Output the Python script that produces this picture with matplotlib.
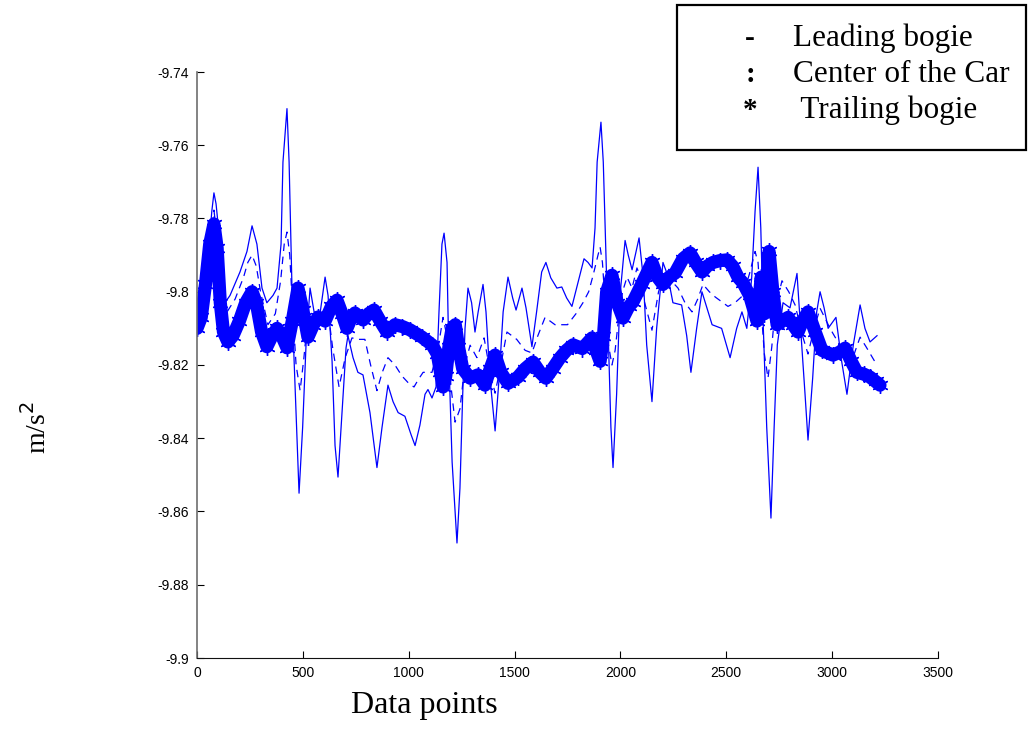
import matplotlib
matplotlib.use("Agg")
import matplotlib.pyplot as plt
from matplotlib.patches import Rectangle

# Vertical acceleration along the car (m/s^2) versus sample index
leading_x = [0, 40, 60, 70, 80, 90, 109, 120, 132, 156, 203, 236, 260, 283, 307, 330, 359, 378,
             397, 406, 425, 435, 444, 453, 468, 482, 499, 515, 534, 553, 581, 605, 619, 638, 652,
             666, 685, 704, 713, 737, 760, 784, 817, 850, 874, 902, 926, 950, 982, 1011, 1030,
             1053, 1077, 1091, 1110, 1129, 1143, 1157, 1167, 1181, 1190, 1205, 1228, 1242, 1255,
             1266, 1280, 1297, 1313, 1328, 1351, 1365, 1384, 1408, 1427, 1446, 1469, 1491, 1507,
             1535, 1554, 1582, 1604, 1628, 1648, 1671, 1700, 1723, 1746, 1771, 1793, 1828, 1847,
             1866, 1880, 1890, 1908, 1919, 1930, 1943, 1955, 1965, 1982, 1998, 2022, 2037, 2055,
             2088, 2108, 2124, 2149, 2171, 2201, 2223, 2248, 2289, 2313, 2333, 2360, 2385, 2433,
             2478, 2518, 2549, 2574, 2597, 2620, 2636, 2650, 2663, 2675, 2691, 2711, 2726, 2741,
             2768, 2801, 2834, 2851, 2872, 2886, 2908, 2927, 2943, 2962, 2981, 3018, 3045, 3070,
             3100, 3132, 3155, 3179, 3212]
leading_y = [-9.810, -9.800, -9.785, -9.778, -9.773, -9.776, -9.787, -9.800, -9.803, -9.801,
             -9.7946, -9.789, -9.782, -9.787, -9.799, -9.803, -9.801, -9.799, -9.787, -9.7646,
             -9.750, -9.7646, -9.787, -9.810, -9.833, -9.855, -9.837, -9.8145, -9.799, -9.8055,
             -9.806, -9.796, -9.801, -9.819, -9.842, -9.8506, -9.833, -9.8153, -9.812, -9.818,
             -9.822, -9.8227, -9.833, -9.848, -9.837, -9.8255, -9.830, -9.833, -9.834, -9.839,
             -9.842, -9.8364, -9.828, -9.8267, -9.829, -9.826, -9.8055, -9.787, -9.784, -9.792,
             -9.819, -9.8465, -9.8686, -9.8536, -9.828, -9.810, -9.799, -9.803, -9.811, -9.8055,
             -9.798, -9.8055, -9.8236, -9.838, -9.8236, -9.8055, -9.796, -9.8017, -9.805, -9.799,
             -9.8044, -9.815, -9.8055, -9.7946, -9.792, -9.7962, -9.799, -9.7987, -9.8017,
             -9.804, -9.799, -9.791, -9.792, -9.7935, -9.7826, -9.7646, -9.7537, -9.7646, -9.787,
             -9.8145, -9.837, -9.848, -9.828, -9.801, -9.786, -9.790, -9.794, -9.7853, -9.7963,
             -9.8145, -9.830, -9.810, -9.792, -9.7955, -9.803, -9.8036, -9.812, -9.822, -9.810,
             -9.800, -9.809, -9.810, -9.818, -9.810, -9.8055, -9.810, -9.7962, -9.778, -9.766,
             -9.7826, -9.810, -9.837, -9.8618, -9.837, -9.8145, -9.803, -9.8044, -9.795, -9.810,
             -9.828, -9.8405, -9.8236, -9.8055, -9.800, -9.8044, -9.810, -9.807, -9.819, -9.828,
             -9.8145, -9.8036, -9.810, -9.8137, -9.812]

center_x = [0, 30, 55, 80, 95, 115, 142, 180, 220, 240, 260, 280, 300, 335, 370, 395, 412, 425,
            438, 452, 468, 487, 505, 520, 534, 560, 585, 614, 640, 671, 700, 732, 760, 793, 820,
            850, 875, 902, 935, 968, 1000, 1025, 1045, 1068, 1110, 1140, 1162, 1180, 1200, 1219,
            1242, 1265, 1290, 1322, 1356, 1385, 1408, 1435, 1464, 1510, 1550, 1582, 1610, 1644,
            1691, 1750, 1790, 1823, 1850, 1871, 1894, 1904, 1915, 1930, 1945, 1960, 1975, 1990,
            2010, 2031, 2055, 2078, 2095, 2110, 2149, 2180, 2211, 2240, 2272, 2305, 2338, 2365,
            2390, 2420, 2447, 2508, 2541, 2579, 2610, 2636, 2650, 2665, 2680, 2697, 2715, 2730,
            2763, 2795, 2825, 2860, 2886, 2915, 2943, 2990, 3040, 3084, 3110, 3132, 3160, 3203]
center_y = [-9.810, -9.803, -9.790, -9.7777, -9.785, -9.800, -9.8055, -9.802, -9.796, -9.792,
            -9.790, -9.793, -9.800, -9.809, -9.806, -9.797, -9.787, -9.7837, -9.790, -9.805,
            -9.820, -9.827, -9.818, -9.809, -9.806, -9.808, -9.808, -9.803, -9.815, -9.826,
            -9.818, -9.8126, -9.813, -9.813, -9.820, -9.827, -9.822, -9.818, -9.820, -9.823,
            -9.825, -9.826, -9.824, -9.822, -9.822, -9.815, -9.807, -9.812, -9.826, -9.8356,
            -9.832, -9.820, -9.8146, -9.818, -9.8126, -9.822, -9.8277, -9.820, -9.811, -9.813,
            -9.816, -9.8167, -9.812, -9.807, -9.809, -9.809, -9.806, -9.803, -9.800, -9.7955,
            -9.790, -9.7878, -9.792, -9.805, -9.815, -9.820, -9.816, -9.808, -9.800, -9.796,
            -9.799, -9.7935, -9.796, -9.802, -9.8105, -9.800, -9.7946, -9.797, -9.799, -9.803,
            -9.8055, -9.802, -9.798, -9.800, -9.8014, -9.804, -9.803, -9.801, -9.795, -9.789,
            -9.792, -9.805, -9.817, -9.8236, -9.815, -9.805, -9.797, -9.800, -9.8036, -9.812,
            -9.817, -9.810, -9.8045, -9.810, -9.815, -9.8206, -9.816, -9.8124, -9.815, -9.8192]

trailing_x = [0, 20, 40, 60, 80, 95, 110, 125, 146, 170, 200, 230, 260, 280, 305, 330, 355, 378,
              400, 425, 450, 477, 500, 524, 550, 572, 605, 635, 661, 685, 708, 730, 746, 784, 810,
              836, 865, 897, 935, 970, 1006, 1063, 1110, 1135, 1150, 1162, 1175, 1190, 1205, 1220,
              1235, 1255, 1290, 1327, 1360, 1385, 1408, 1435, 1469, 1516, 1550, 1587, 1620, 1648,
              1680, 1715, 1745, 1776, 1820, 1866, 1885, 1904, 1920, 1935, 1960, 1985, 2012, 2040,
              2059, 2100, 2149, 2175, 2201, 2230, 2258, 2295, 2329, 2355, 2385, 2410, 2437, 2470,
              2503, 2530, 2555, 2579, 2610, 2645, 2665, 2680, 2702, 2720, 2740, 2765, 2792, 2815,
              2839, 2860, 2886, 2920, 2952, 3004, 3035, 3061, 3090, 3117, 3150, 3179, 3205, 3226]
trailing_y = [-9.810, -9.807, -9.798, -9.787, -9.7815, -9.788, -9.803, -9.811, -9.8137, -9.812,
              -9.808, -9.803, -9.800, -9.803, -9.811, -9.815, -9.812, -9.810, -9.812, -9.8153,
              -9.808, -9.799, -9.805, -9.8124, -9.809, -9.8069, -9.808, -9.804, -9.8023, -9.806,
              -9.810, -9.807, -9.8058, -9.8077, -9.806, -9.805, -9.808, -9.811, -9.809, -9.8095,
              -9.8104, -9.8124, -9.8145, -9.817, -9.822, -9.826, -9.823, -9.815, -9.810, -9.809,
              -9.815, -9.821, -9.8236, -9.8227, -9.8255, -9.821, -9.8173, -9.822, -9.825, -9.8233,
              -9.821, -9.8192, -9.822, -9.8236, -9.821, -9.818, -9.816, -9.8145, -9.8155, -9.8126,
              -9.816, -9.819, -9.812, -9.800, -9.7955, -9.803, -9.8072, -9.804, -9.8028, -9.798,
              -9.792, -9.796, -9.798, -9.796, -9.7949, -9.791, -9.7894, -9.792, -9.7946, -9.793,
              -9.792, -9.7915, -9.7913, -9.793, -9.796, -9.7976, -9.801, -9.808, -9.796, -9.806,
              -9.789, -9.800, -9.809, -9.808, -9.807, -9.809, -9.811, -9.808, -9.8055, -9.811,
              -9.816, -9.8173, -9.8165, -9.8154, -9.819, -9.822, -9.8225, -9.8233, -9.8245,
              -9.8255]

x_ticks = [0, 500, 1000, 1500, 2000, 2500, 3000, 3500]
y_ticks = [-9.9, -9.88, -9.86, -9.84, -9.82, -9.8, -9.78, -9.76, -9.74]
y_tick_labels = ["-9.9", "-9.88", "-9.86", "-9.84", "-9.82", "-9.8", "-9.78", "-9.76", "-9.74"]

legend_marks = ["-", ":", "*"]
legend_names = ["Leading bogie", "Center of the Car", " Trailing bogie"]

W, H = 1029, 729
fig = plt.figure(figsize=(W / 100, H / 100), dpi=100)
ax = fig.add_axes([197 / W, (H - 658) / H, 741 / W, 586 / H])

blue = "#0000ff"
ax.plot(leading_x, leading_y, color=blue, lw=0.9)
ax.plot(center_x, center_y, color=blue, lw=0.9, linestyle=(0, (6, 4.5)))
ax.plot(trailing_x, trailing_y, color=blue, lw=9.5, solid_joinstyle="round",
        solid_capstyle="round", marker=(6, 2, 0), markersize=12, markeredgewidth=1.0,
        markeredgecolor=blue)

ax.set_xlim(0, 3500)
ax.set_ylim(-9.9, -9.74)
ax.set_xticks(x_ticks)
ax.set_xticklabels([str(t) for t in x_ticks])
ax.set_yticks(y_ticks)
ax.set_yticklabels(y_tick_labels)

for side in ("top", "right"):
    ax.spines[side].set_visible(False)
ax.spines["left"].set_color("#6e6e6e")
ax.spines["left"].set_linewidth(1.2)
ax.spines["bottom"].set_color("#111111")
ax.tick_params(direction="in", length=5, width=0.8, labelsize=10, pad=6)
for lab in ax.get_xticklabels() + ax.get_yticklabels():
    lab.set_family("Liberation Sans")

serif = "Liberation Serif"
fig.text(424 / W, 1 - 706 / H, "Data points", family=serif, fontsize=23,
         ha="center", va="center")
fig.text(37 / W, 1 - 428 / H, "m/s$^2$", family=serif, fontsize=20, rotation=90,
         ha="center", va="center")

# Text legend in a framed box at the upper right
box = Rectangle((677 / W, 1 - 150 / H), 349 / W, 145 / H, transform=fig.transFigure,
                facecolor="white", edgecolor="black", lw=1.6, zorder=5)
fig.patches.append(box)
rows_y = [38, 74, 110]
for mark, name, py in zip(legend_marks, legend_names, rows_y):
    fig.text(750 / W, 1 - py / H, mark, family=serif, fontsize=21, fontweight="bold",
             ha="center", va="center", zorder=6)
    fig.text(793 / W, 1 - py / H, name, family=serif, fontsize=22.5, ha="left",
             va="center", zorder=6)

fig.savefig("out.png", dpi=100)
